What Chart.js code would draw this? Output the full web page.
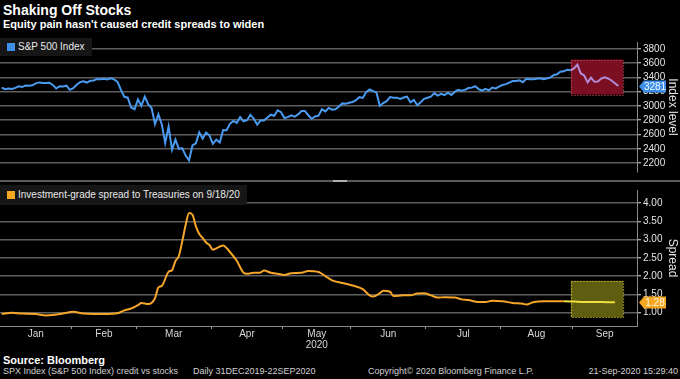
<!DOCTYPE html>
<html>
<head>
<meta charset="utf-8">
<script src="https://cdn.jsdelivr.net/npm/chart.js@4.4.1/dist/chart.umd.min.js"></script>
<style>
  html, body { margin: 0; padding: 0; background: #000; }
  body { width: 680px; height: 379px; position: relative; overflow: hidden; font-family: "Liberation Sans", Arial, sans-serif; color: #fff; }
  .title { position: absolute; left: 3px; top: 2px; font-size: 14px; line-height: 16px; font-weight: bold; }
  .subtitle { position: absolute; left: 3px; top: 18px; font-size: 11px; line-height: 12px; font-weight: bold; }
  .panel { position: absolute; left: 0; }
  .legend { position: absolute; left: 0; background: #161616; font-size: 10px; color: #e8e8e8; padding: 0 7px; white-space: nowrap; }
  .legend .sw { display: inline-block; width: 8px; height: 8px; margin-right: 3px; vertical-align: -0.5px; }
  .sep { position: absolute; left: 0; top: 180px; width: 680px; height: 2px; background: #5c5c5c; }
  .knob { position: absolute; left: 333px; top: 180px; width: 14px; height: 2px; background: #b0b0b0; }
  .source { position: absolute; left: 3px; top: 354px; font-size: 11px; font-weight: bold; }
  .foot { position: absolute; top: 366px; font-size: 9px; color: #d0d0d0; white-space: nowrap; }
</style>
</head>
<body>
<div class="title">Shaking Off Stocks</div>
<div class="subtitle">Equity pain hasn't caused credit spreads to widen</div>

<div class="panel" style="top:34px"><canvas id="spxChart" width="680" height="146"></canvas></div>
<div class="sep"></div><div class="knob"></div>
<div class="panel" style="top:182px"><canvas id="spreadChart" width="680" height="170"></canvas></div>

<div class="legend" style="top:38px;height:18px;line-height:18px"><span class="sw" style="background:#3d8fe8"></span>S&amp;P 500 Index</div>
<div class="legend" style="top:185px;height:20px;line-height:20px"><span class="sw" style="background:#f5a623"></span>Investment-grade spread to Treasuries on 9/18/20</div>

<div class="source">Source: Bloomberg</div>
<div class="foot" style="left:3px">SPX Index (S&amp;P 500 Index) credit vs stocks</div>
<div class="foot" style="left:193px">Daily 31DEC2019-22SEP2020</div>
<div class="foot" style="left:368px">Copyright&copy; 2020 Bloomberg Finance L.P.</div>
<div class="foot" style="right:2px">21-Sep-2020 15:29:40</div>

<script>
// trading days of 2020 shown on the axis, one list per month
var months = ['Jan', 'Feb', 'Mar', 'Apr', 'May', 'Jun', 'Jul', 'Aug', 'Sep'];
var yearLabel = '2020';
var tradingDays = [
  [2,3,6,7,8,9,10,13,14,15,16,17,21,22,23,24,27,28,29,30,31],
  [3,4,5,6,7,10,11,12,13,14,18,19,20,21,24,25,26,27,28],
  [2,3,4,5,6,9,10,11,12,13,16,17,18,19,20,23,24,25,26,27,30,31],
  [1,2,3,6,7,8,9,13,14,15,16,17,20,21,22,23,24,27,28,29,30],
  [1,4,5,6,7,8,11,12,13,14,15,18,19,20,21,22,26,27,28,29],
  [1,2,3,4,5,8,9,10,11,12,15,16,17,18,19,22,23,24,25,26,29,30],
  [1,2,6,7,8,9,10,13,14,15,16,17,20,21,22,23,24,27,28,29,30,31],
  [3,4,5,6,7,10,11,12,13,14,17,18,19,20,21,24,25,26,27,28,31],
  [1,2,3,4,8,9,10,11,14,15,16,17,18,21]
];

// S&P 500 close, one value per trading day
var spx = [
  3258,3235,3246,3237,3253,3275,3265,3288,3283,3289,3317,3330,3321,3321,3326,3295,3244,3276,3274,3284,3226,
  3249,3298,3334,3346,3328,3352,3358,3379,3374,3380,3370,3386,3373,3338,3226,3128,3116,2979,2954,
  3090,3003,3130,3024,2972,2747,2882,2741,2481,2711,2386,2529,2398,2409,2305,2237,2447,2476,2630,2541,2627,2585,
  2470,2527,2489,2664,2660,2750,2790,2762,2846,2784,2800,2875,2823,2737,2799,2798,2837,2878,2863,2940,2912,
  2831,2843,2868,2849,2882,2930,2930,2870,2820,2852,2864,2954,2923,2972,2949,2955,2992,3036,3030,3044,
  3056,3081,3123,3112,3194,3232,3207,3190,3002,3041,3067,3125,3114,3116,3098,3118,3131,3050,3084,3009,3053,3100,
  3116,3130,3180,3145,3170,3152,3185,3155,3197,3227,3215,3225,3251,3257,3276,3236,3216,3240,3218,3258,3246,3271,
  3295,3306,3328,3349,3351,3360,3333,3380,3373,3373,3382,3389,3375,3385,3397,3431,3443,3479,3485,3508,3500,
  3527,3580,3455,3427,3331,3398,3339,3341,3383,3401,3385,3357,3319,3281
];

// investment-grade spread (%), read at these dates
var spreadDates = [
  '1/2','1/7','1/10','1/16','1/22','1/24','1/29',
  '2/3','2/6','2/11','2/14','2/21','2/25','2/27',
  '3/2','3/3','3/5','3/9','3/10','3/11','3/13','3/16','3/17','3/18','3/19','3/20','3/23','3/24','3/25','3/26','3/27','3/30','3/31',
  '4/1','4/2','4/6','4/8','4/13','4/15','4/16','4/20','4/22','4/23','4/27','4/29',
  '5/1','5/5','5/8','5/12','5/15','5/19','5/21','5/27',
  '6/1','6/4','6/8','6/9','6/11','6/12','6/16','6/17','6/22','6/24','6/26','6/30',
  '7/2','7/7','7/9','7/14','7/16','7/20','7/23','7/27','7/29',
  '8/3','8/6','8/11','8/12','8/14','8/19','8/25','8/27',
  '9/1','9/4','9/11','9/16','9/18'
];
var spreadVals = [
  0.96,0.99,0.97,0.96,0.92,0.93,0.97,
  1.02,0.97,0.96,0.96,0.98,1.06,1.11,
  1.20,1.26,1.23,1.39,1.69,1.73,2.12,2.16,2.41,2.55,2.95,3.40,3.73,3.68,3.37,3.15,3.05,2.92,2.85,
  2.72,2.76,2.84,2.66,2.42,2.09,2.06,2.09,2.10,2.15,2.09,2.06,
  2.03,2.08,2.09,2.14,2.11,2.00,1.88,1.81,
  1.74,1.64,1.47,1.44,1.53,1.60,1.57,1.45,1.47,1.47,1.52,1.53,
  1.47,1.41,1.42,1.41,1.36,1.34,1.29,1.29,1.32,
  1.31,1.26,1.24,1.22,1.28,1.31,1.31,1.31,
  1.30,1.29,1.29,1.28,1.28
];

var spxTicks = [2200, 2400, 2600, 2800, 3000, 3200, 3400, 3600, 3800];
var spreadTicks = [1.00, 1.50, 2.00, 2.50, 3.00, 3.50, 4.00];

// highlighted September window (x in trading-day index, y in data units)
var spxBox = { x0: 167.1, x1: 182.4, y0: 3160, y1: 3650 };
var spreadBox = { x0: 167.1, x1: 182.4, y0: 0.87, y1: 1.87 };

(function() {
  var X_MIN = -0.5, X_MAX = 186.5;
  var FONT = '"Liberation Sans", Arial, sans-serif';
  Chart.defaults.font.family = FONT;

  // flatten trading days into keys 'm/d' -> index
  var dayKeys = [];
  var monthStart = [];
  tradingDays.forEach(function(days, m) {
    monthStart.push(dayKeys.length);
    days.forEach(function(d) { dayKeys.push((m + 1) + '/' + d); });
  });

  var spxPoints = spx.map(function(v, i) { return { x: i, y: v }; });
  var spreadPoints = spreadDates.map(function(d, i) {
    return { x: dayKeys.indexOf(d), y: spreadVals[i] };
  });

  // month boundary tick marks and centred month labels
  var bounds = monthStart.slice(1).map(function(i) { return i - 0.5; });
  var labelTicks = {};
  months.forEach(function(name, m) {
    var a = m === 0 ? X_MIN : monthStart[m] - 0.5;
    var b = m + 1 < months.length ? monthStart[m + 1] - 0.5 : X_MAX;
    var c = Math.round(((a + b) / 2) * 100) / 100;
    labelTicks[c] = name === 'May' ? [name, yearLabel] : name;
  });

  var highlightPlugin = {
    id: 'highlight',
    beforeDatasetsDraw: function(chart, args, opts) {
      var xs = chart.scales.x, ys = chart.scales.y, ctx = chart.ctx;
      var l = xs.getPixelForValue(opts.box.x0), r = xs.getPixelForValue(opts.box.x1);
      var t = ys.getPixelForValue(opts.box.y1), b = ys.getPixelForValue(opts.box.y0);
      ctx.save();
      ctx.fillStyle = opts.fill;
      ctx.fillRect(l, t, r - l, b - t);
      ctx.setLineDash([1, 2]);
      ctx.lineWidth = 1.2;
      ctx.strokeStyle = opts.border;
      ctx.strokeRect(Math.round(l) + 0.5, Math.round(t) + 0.5, Math.round(r - l), Math.round(b - t));
      ctx.restore();
    }
  };

  var lastTagPlugin = {
    id: 'lastTag',
    afterDraw: function(chart, args, opts) {
      var data = chart.data.datasets[0].data;
      var last = data[data.length - 1].y;
      var y = Math.round(chart.scales.y.getPixelForValue(last)) + 0.5;
      var x0 = chart.chartArea.right + 2;
      var ctx = chart.ctx;
      ctx.save();
      ctx.fillStyle = opts.bg;
      ctx.beginPath();
      ctx.moveTo(x0, y);
      ctx.lineTo(x0 + 5, y - 6);
      ctx.lineTo(x0 + 27, y - 6);
      ctx.lineTo(x0 + 27, y + 6);
      ctx.lineTo(x0 + 5, y + 6);
      ctx.closePath();
      ctx.fill();
      ctx.fillStyle = opts.color;
      ctx.font = '10px ' + FONT;
      ctx.textAlign = 'center';
      ctx.textBaseline = 'middle';
      ctx.fillText(opts.text(last), x0 + 16, y + 0.5);
      ctx.restore();
    }
  };

  function yScale(min, max, ticks, title, fmt) {
    return {
      position: 'right',
      min: min,
      max: max,
      afterBuildTicks: function(s) { s.ticks = ticks.map(function(v) { return { value: v }; }); },
      afterFit: function(s) { s.width = 43; },
      grid: { color: '#5e5e5e', lineWidth: 1.5, drawTicks: true, tickLength: 4, tickColor: '#e0e0e0', tickWidth: 1 },
      border: { color: '#8a8a8a', width: 1 },
      ticks: { color: '#e4e4e4', font: { size: 10 }, padding: 2, callback: fmt },
      title: { display: true, text: title, color: '#e4e4e4', font: { size: 12 }, padding: { top: 0, bottom: 0 } }
    };
  }

  function baseOptions() {
    return {
      responsive: false,
      animation: false,
      devicePixelRatio: 1,
      layout: { padding: 0 },
      plugins: { legend: { display: false }, tooltip: { enabled: false } }
    };
  }

  // top panel: S&P 500
  var topOpts = baseOptions();
  topOpts.scales = {
    x: { type: 'linear', min: X_MIN, max: X_MAX, display: false },
    y: yScale(2075, 3896, spxTicks, 'Index level', function(v) { return v; })
  };
  topOpts.plugins.highlight = { box: spxBox, fill: '#7a0f22', border: '#d9566a' };
  topOpts.plugins.lastTag = { bg: '#3d8fe8', color: '#f2f8ff', text: function(v) { return String(v); } };

  new Chart(document.getElementById('spxChart'), {
    type: 'line',
    data: {
      datasets: [{
        data: spxPoints,
        borderColor: '#4a9af0',
        borderWidth: 2,
        pointRadius: 0,
        tension: 0,
        segment: {
          borderColor: function(c) { return c.p1.parsed.x > spxBox.x0 ? '#b48ad8' : undefined; }
        }
      }]
    },
    options: topOpts,
    plugins: [highlightPlugin, lastTagPlugin]
  });

  // bottom panel: IG spread
  var botOpts = baseOptions();
  botOpts.scales = {
    x: {
      type: 'linear',
      min: X_MIN,
      max: X_MAX,
      afterBuildTicks: function(s) {
        var t = bounds.map(function(v) { return { value: v }; });
        Object.keys(labelTicks).forEach(function(k) { t.push({ value: Number(k) }); });
        s.ticks = t;
      },
      afterFit: function(s) { s.height = 26; },
      grid: {
        drawOnChartArea: false,
        drawTicks: true,
        tickLength: 3,
        tickColor: function(c) { return labelTicks[c.tick && c.tick.value] ? 'rgba(0,0,0,0)' : '#9a9a9a'; }
      },
      border: { color: '#8a8a8a', width: 1 },
      ticks: {
        autoSkip: false,
        maxRotation: 0,
        padding: 0,
        color: '#d8d8d8',
        font: { size: 10, lineHeight: 1.1 },
        callback: function(v) { return labelTicks[v] || ''; }
      }
    },
    y: yScale(0.63, 4.36, spreadTicks, 'Spread', function(v) { return Number(v).toFixed(2); })
  };
  botOpts.plugins.highlight = { box: spreadBox, fill: '#5f5d10', border: '#e8e040' };
  botOpts.plugins.lastTag = { bg: '#f5a623', color: '#fff6e0', text: function(v) { return v.toFixed(2); } };

  new Chart(document.getElementById('spreadChart'), {
    type: 'line',
    data: {
      datasets: [{
        data: spreadPoints,
        borderColor: '#f5a52a',
        borderWidth: 2,
        pointRadius: 0,
        tension: 0.3,
        cubicInterpolationMode: 'monotone',
        segment: {
          borderColor: function(c) { return c.p1.parsed.x > spreadBox.x0 ? '#eee040' : undefined; }
        }
      }]
    },
    options: botOpts,
    plugins: [highlightPlugin, lastTagPlugin]
  });
})();
</script>
</body>
</html>
